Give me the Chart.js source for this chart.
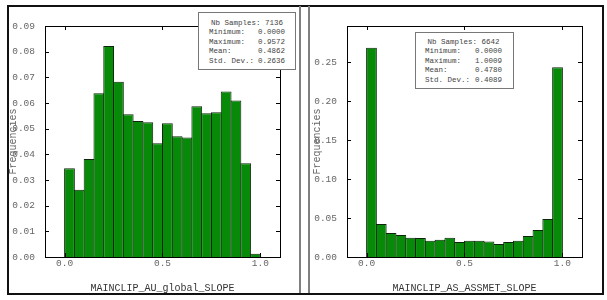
<!DOCTYPE html>
<html>
<head>
<meta charset="utf-8">
<script src="https://cdn.jsdelivr.net/npm/chart.js@4.4.1/dist/chart.umd.min.js"></script>
<style>
  body { margin: 0; width: 607px; height: 300px; background: #fff; position: relative; overflow: hidden; }
  .panel { position: absolute; top: 0; height: 300px; }
  #leftPanel { left: 0; width: 303px; }
  #rightPanel { left: 303px; width: 304px; }
  .frame { position: absolute; left: 7px; top: 5px; width: 597px; height: 290px; box-sizing: border-box; border: 2px solid #111; z-index: 2; }
  .divider { position: absolute; top: 6px; height: 287px; width: 2px; background: #808080; z-index: 2; }
  .stats { position: absolute; box-sizing: border-box; border: 1px solid #777; background: #fff; z-index: 3;
           font-family: "Liberation Mono", monospace; font-size: 7.5px; color: #444; line-height: 9.4px; }
  .stats .row { display: flex; justify-content: space-between; white-space: pre; }
  .stats .head { text-align: center; white-space: pre; }
  #leftStats { left: 198px; top: 12px; width: 98px; height: 58px; padding: 6px 10px 0 10px; }
  #rightStats { left: 415px; top: 32px; width: 99px; height: 57px; padding: 5px 11px 0 9px; }
</style>
</head>
<body>
<div class="panel" id="leftPanel"><canvas id="leftChart"></canvas></div>
<div class="panel" id="rightPanel"><canvas id="rightChart"></canvas></div>
<div class="frame"></div>
<div class="divider" style="left:299px"></div>
<div class="divider" style="left:308px"></div>
<div class="stats" id="leftStats"></div>
<div class="stats" id="rightStats"></div>
<script>
// histogram bins (centres, width 0.05)
const binCenters = [0.025, 0.075, 0.125, 0.175, 0.225, 0.275, 0.325, 0.375, 0.425, 0.475,
                    0.525, 0.575, 0.625, 0.675, 0.725, 0.775, 0.825, 0.875, 0.925, 0.975];

const leftFreq = [0.0346, 0.0262, 0.0382, 0.0638, 0.0822, 0.0683, 0.0556, 0.0530, 0.0525, 0.0443,
                  0.0521, 0.0470, 0.0466, 0.0587, 0.0560, 0.0564, 0.0645, 0.0610, 0.0365, 0.0013];
const rightFreq = [0.2687, 0.0423, 0.0308, 0.0282, 0.0247, 0.0245, 0.0209, 0.0222, 0.0247, 0.0192,
                   0.0209, 0.0209, 0.0200, 0.0166, 0.0192, 0.0209, 0.0269, 0.0346, 0.0487, 0.2436];

const xTicks = [0.0, 0.5, 1.0];
const leftYTicks = [0.00, 0.01, 0.02, 0.03, 0.04, 0.05, 0.06, 0.07, 0.08, 0.09];
const rightYTicks = [0.00, 0.05, 0.10, 0.15, 0.20, 0.25];

const statLabels = ['Nb Samples:', 'Minimum:', 'Maximum:', 'Mean:', 'Std. Dev.:'];
const leftStats = ['7136', '0.0000', '0.9572', '0.4862', '0.2636'];
const rightStats = ['6642', '0.0000', '1.0009', '0.4780', '0.4089'];

const leftTitle = 'MAINCLIP_AU_global_SLOPE';
const rightTitle = 'MAINCLIP_AS_ASSMET_SLOPE';

function fillStats(id, values) {
  let box = document.getElementById(id);
  let html = '<div class="head">' + statLabels[0] + ' ' + values[0] + '</div>';
  for (let i = 1; i < statLabels.length; i++) {
    html += '<div class="row"><span>' + statLabels[i] + '</span><span>' + values[i] + '</span></div>';
  }
  box.innerHTML = html;
}
fillStats('leftStats', leftStats);
fillStats('rightStats', rightStats);

// gnuplot style frame with inward ticks on all sides
const frameTicks = {
  id: 'frameTicks',
  afterDraw(chart) {
    const {ctx, chartArea: a, scales: {x, y}} = chart;
    ctx.save();
    ctx.strokeStyle = '#000';
    ctx.lineWidth = 1;
    ctx.strokeRect(Math.round(a.left) + 0.5, Math.round(a.top) + 0.5,
                   Math.round(a.right - a.left), Math.round(a.bottom - a.top));
    ctx.beginPath();
    y.ticks.forEach(t => {
      let py = Math.round(y.getPixelForValue(t.value)) + 0.5;
      ctx.moveTo(a.left, py); ctx.lineTo(a.left + 4, py);
      ctx.moveTo(a.right, py); ctx.lineTo(a.right - 4, py);
    });
    x.ticks.forEach(t => {
      let px = Math.round(x.getPixelForValue(t.value)) + 0.5;
      ctx.moveTo(px, a.top); ctx.lineTo(px, a.top + 4);
      ctx.moveTo(px, a.bottom); ctx.lineTo(px, a.bottom - 4);
    });
    ctx.stroke();
    ctx.restore();
  }
};

const monoFont = { family: '"Liberation Mono", monospace', size: 9.5 };

function makeChart(canvasId, freq, yTicks, yMax, title, pad) {
  let ctx = document.getElementById(canvasId).getContext('2d');
  return new Chart(ctx, {
    type: 'bar',
    plugins: [frameTicks],
    data: {
      datasets: [{
        data: freq.map((v, i) => ({ x: binCenters[i], y: v })),
        backgroundColor: '#078a07',
        borderColor: '#0d250d',
        borderWidth: 1,
        borderSkipped: 'bottom',
        barPercentage: 1.1,
        categoryPercentage: 1.0
      }]
    },
    options: {
      responsive: true,
      maintainAspectRatio: false,
      animation: false,
      layout: { padding: { left: 0, top: 26, right: pad.right, bottom: 0 } },
      plugins: { legend: { display: false }, tooltip: { enabled: false } },
      scales: {
        x: {
          type: 'linear',
          offset: false,
          min: -0.1,
          max: 1.1,
          grid: { display: false, drawTicks: false, offset: false },
          border: { display: false },
          afterBuildTicks: scale => { scale.ticks = xTicks.map(v => ({ value: v })); },
          afterFit: scale => { scale.height = 43; },
          ticks: {
            padding: 1,
            color: '#666',
            font: monoFont,
            maxRotation: 0,
            callback: v => v.toFixed(1)
          },
          title: {
            display: true,
            text: title,
            color: '#333',
            font: { family: '"Liberation Mono", monospace', size: 10, lineHeight: 1.2 },
            padding: { top: 0, bottom: 6 }
          }
        },
        y: {
          min: 0,
          max: yMax,
          grid: { display: false, drawTicks: false },
          border: { display: false },
          afterBuildTicks: scale => { scale.ticks = yTicks.map(v => ({ value: v })); },
          afterFit: scale => { scale.width = pad.axis; },
          ticks: {
            padding: 10,
            color: '#666',
            font: monoFont,
            callback: v => v.toFixed(2)
          },
          title: {
            display: true,
            text: 'Frequencies',
            color: '#666',
            font: { family: '"Liberation Mono", monospace', size: 10, lineHeight: 1.2 },
            padding: { top: pad.title, bottom: 0 }
          }
        }
      }
    }
  });
}

makeChart('leftChart', leftFreq, leftYTicks, 0.09, leftTitle, { right: 23, axis: 45, title: 7 });
makeChart('rightChart', rightFreq, rightYTicks, 0.2965, rightTitle, { right: 25, axis: 44, title: 8 });
</script>
</body>
</html>
